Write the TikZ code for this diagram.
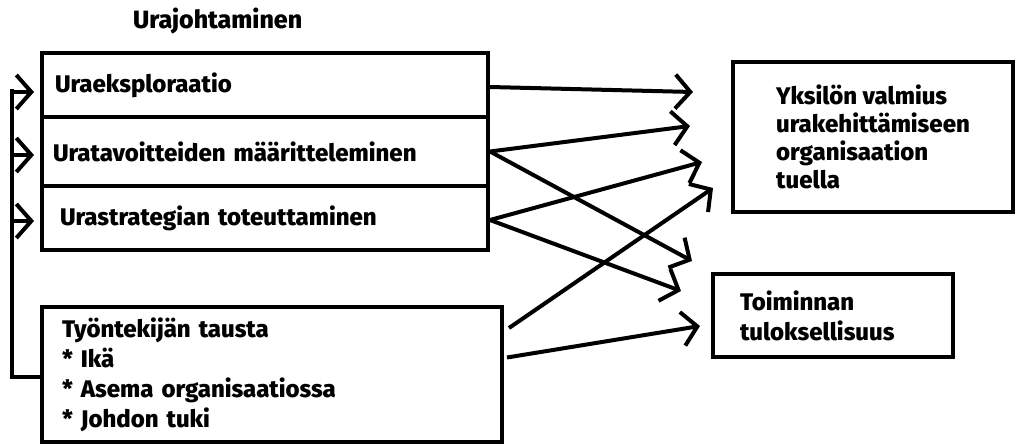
\documentclass[tikz,border=0pt]{standalone}
\usepackage{fontspec}
\setmainfont{Fira Sans}[BoldFont={Fira Sans ExtraBold}]
\usetikzlibrary{arrows.meta,calc}
\begin{document}
\begin{tikzpicture}[x=1pt,y=-1pt,
  lw/.style={line width=4pt},
  box/.style={draw,lw,align=left,inner ysep=0pt,font=\txt},
  arr/.style={lw,-{Straight Barb[length=15pt,width=34pt,line width=4pt]}},
  lbl/.style={font=\txt,inner sep=0pt}]
\newcommand{\txt}{\fontsize{24}{30}\selectfont\bfseries}
\useasboundingbox (0,0) rectangle (1019,444);
\node[lbl,anchor=west,font=\fontsize{25}{30}\selectfont\bfseries] (title) at (133,21) {Urajohtaminen};
% career management boxes
\node[box,minimum width=446,minimum height=64,text width=420,inner xsep=13] (b1) at (265,85) {Uraeksploraatio};
\node[box,minimum width=446,minimum height=69,text width=424,inner xsep=11] (b2) at (265,151.5) {Uratavoitteiden määritteleminen};
\node[box,minimum width=446,minimum height=64,text width=410,inner xsep=18] (b3) at (265,218) {Urastrategian toteuttaminen};
% background box
\node[box,minimum width=460,minimum height=135,text width=420,inner xsep=20] (tw) at (272,374.5)
  {Työntekijän tausta\\{}* Ikä\\{}* Asema organisaatiossa\\{}* Johdon tuki};
% outcome boxes
\node[box,minimum width=280,minimum height=150,inner xsep=20,font=\fontsize{24}{28}\selectfont\bfseries] (yk) at (873,137)
  {Yksilön valmius\\urakehittämiseen\\organisaation\\tuella};
\node[box,minimum width=240,minimum height=83,text width=186,inner xsep=27] (to) at (833,315.5)
  {Toiminnan\\tuloksellisuus};
% feedback loop
\coordinate (fb) at (12,89);
\draw[lw] (tw.west |- 0,377) -| (fb);
\draw[arr,shorten >=6pt] (fb |- 0,92) -- (b1.west |- 0,92);
\draw[arr,shorten >=6pt] (fb |- 0,155) -- (b2.west |- 0,155);
\draw[arr,shorten >=6pt] (fb |- 0,221) -- (b3.west |- 0,221);
% tips
\coordinate (t1) at (693,92);
\coordinate (t2) at (690,126);
\coordinate (t3) at (692,261);
\coordinate (t4) at (702,162);
\coordinate (t5) at (681,291);
\coordinate (t6) at (713,188);
\coordinate (t7) at (700,326);
\draw[arr] (b1.east |- 0,87) -- (t1);
\draw[arr] (b2.east) -- (t2);
\draw[arr] (b2.east) -- (t3);
\draw[arr] (b3.east |- 0,220) -- (t4);
\draw[arr] (b3.east |- 0,220) -- (t5);
\draw[arr] ($(tw.north east)+(5,23)$) -- (t6);
\draw[arr] ($(tw.east)+(3,-17)$) -- (t7);
\end{tikzpicture}
\end{document}
